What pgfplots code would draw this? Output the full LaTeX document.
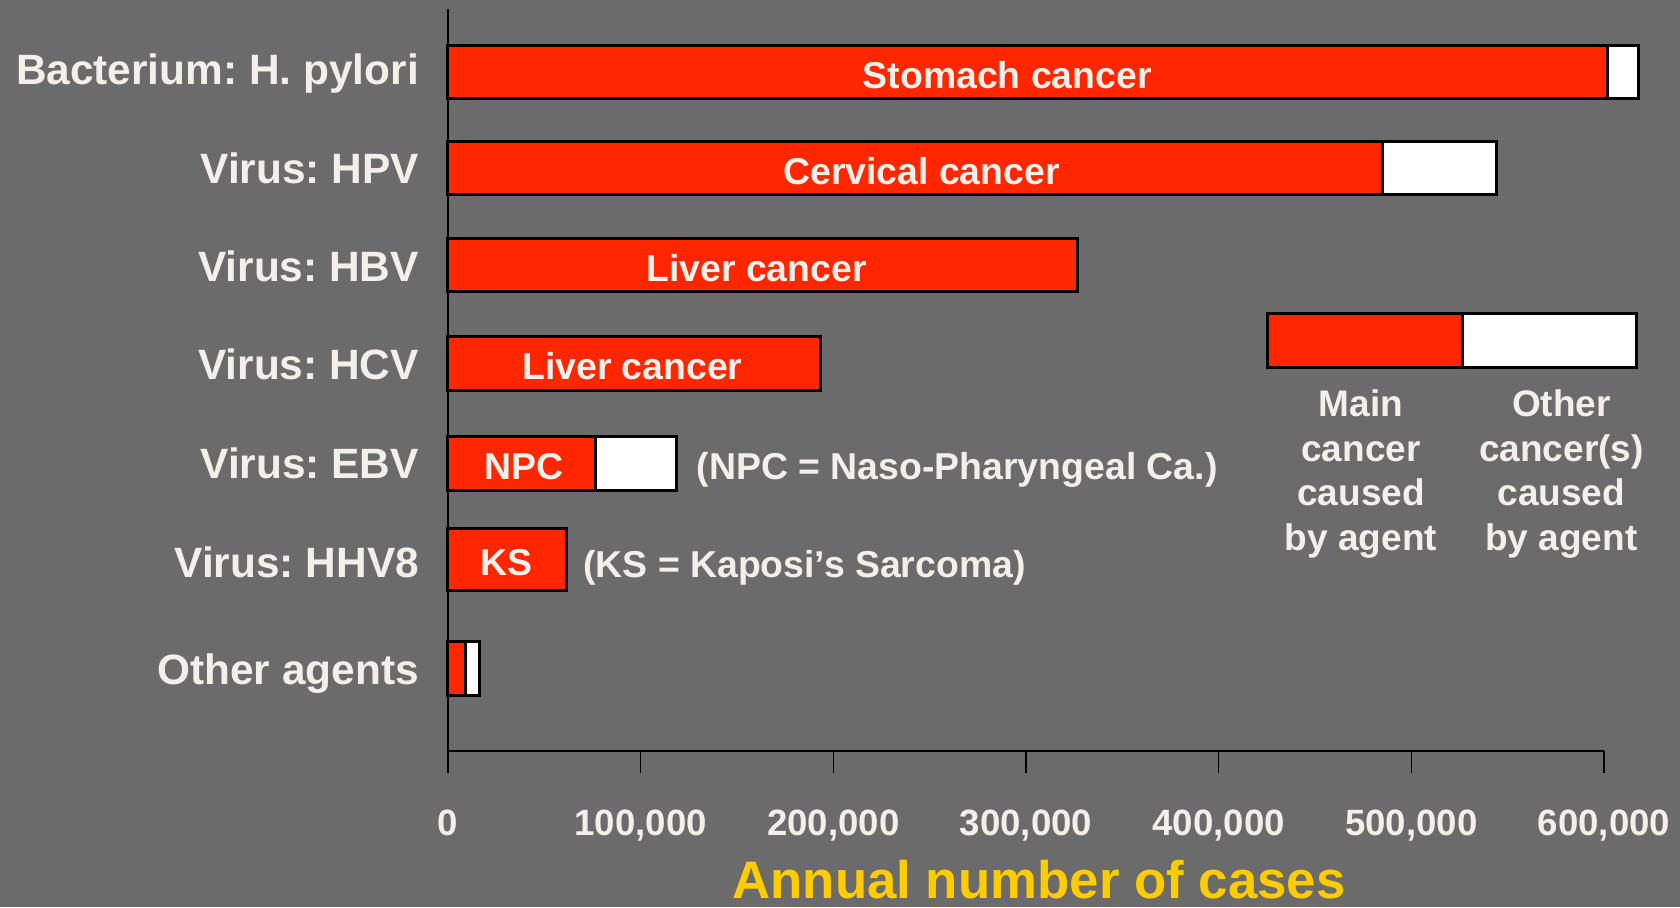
\documentclass[border=0pt]{standalone}
\usepackage{fontspec}
\setmainfont{Liberation Sans}
\usepackage{pgfplots}
\pgfplotsset{compat=1.18}
\definecolor{bg}{HTML}{6B6B6B}
\definecolor{barred}{HTML}{FF2600}
\definecolor{txt}{HTML}{F3F0EB}
\definecolor{ttl}{HTML}{FFCC00}
\frenchspacing
\begin{document}
\begin{tikzpicture}
\fill[bg] (-224pt,-78pt) rectangle (616pt,375.5pt);
\begin{axis}[
  at={(0pt,0pt)}, anchor=south west,
  scale only axis, width=578pt, height=371pt,
  xmin=0, xmax=600000, ymin=0, ymax=693,
  axis lines*=left,
  axis line style={line width=1pt, black},
  clip=false,
  scaled x ticks=false,
  xtick={0,100000,200000,300000,400000,500000,600000},
  xticklabels={0,{100,000},{200,000},{300,000},{400,000},{500,000},{600,000}},
  tick align=outside,
  major tick length=11pt,
  xtick style={black, line width=0.8pt},
  ytick={633,544.5,453,361,268.5,176,72},
  yticklabels={Bacterium: H. pylori,Virus: HPV,Virus: HBV,Virus: HCV,Virus: EBV,Virus: HHV8,Other agents},
  ytick style={draw=none},
  xticklabel style={font=\fontsize{18.3}{20}\selectfont\bfseries, text=txt, yshift=-15pt},
  yticklabel style={font=\fontsize{21.2}{24}\selectfont\bfseries, text=txt, xshift=0pt},
  xlabel={Annual number of cases},
  xlabel style={at={(axis description cs:0.5,0)}, anchor=center, yshift=-64.5pt, xshift=6.5pt,
    inner sep=0pt, font=\fontsize{26.4}{30}\selectfont\bfseries, text=ttl},
  xbar, bar shift=0pt, bar width=50,
]
% white: total cases (main + other cancers)
\addplot[fill=white, draw=black, line width=1.5pt] coordinates {
  (618000,634) (544000,544.5) (118500,268.5) (16100,77)};
% red: main cancer
\addplot[fill=barred, draw=black, line width=1.5pt] coordinates {
  (602000,634) (485000,544.5) (326500,454) (193500,362) (76700,268.5) (8900,77)};
\addplot[fill=barred, draw=black, line width=1.5pt, bar width=58] coordinates {
  (61700,179)};

\tikzset{lbl/.style={font=\fontsize{18.7}{22}\selectfont\bfseries, text=txt, yshift=-1.5pt}}
\node[lbl] at (axis cs:290300,634) {Stomach cancer};
\node[lbl] at (axis cs:245800,544.5) {Cervical cancer};
\node[lbl] at (axis cs:160200,454) {Liver cancer};
\node[lbl] at (axis cs:95700,362) {Liver cancer};
\node[lbl] at (axis cs:39500,268.5) {NPC};
\node[lbl] at (axis cs:30600,179) {KS};
\node[lbl, anchor=west, inner sep=0pt] at (axis cs:129000,265) {(NPC = Naso-Pharyngeal Ca.)};
\node[lbl, anchor=west, inner sep=0pt] at (axis cs:70000,174) {(KS = Kaposi’s Sarcoma)};

% legend key
\draw[fill=barred, line width=1.5pt] (axis cs:425500,358) rectangle (axis cs:526700,409);
\draw[fill=white, line width=1.5pt] (axis cs:526700,358) rectangle (axis cs:616800,409);
\node[align=center, anchor=north, inner sep=0pt, font=\fontsize{18.5}{22.4}\selectfont\bfseries, text=txt]
  at (axis cs:473900,338) {Main\\cancer\\caused\\by agent};
\node[align=center, anchor=north, inner sep=0pt, font=\fontsize{18.5}{22.4}\selectfont\bfseries, text=txt]
  at (axis cs:577900,338) {Other\\cancer(s)\\caused\\by agent};
\end{axis}
\pgfresetboundingbox
\path (-224pt,-78pt) rectangle (616pt,375.5pt);
\end{tikzpicture}
\end{document}
